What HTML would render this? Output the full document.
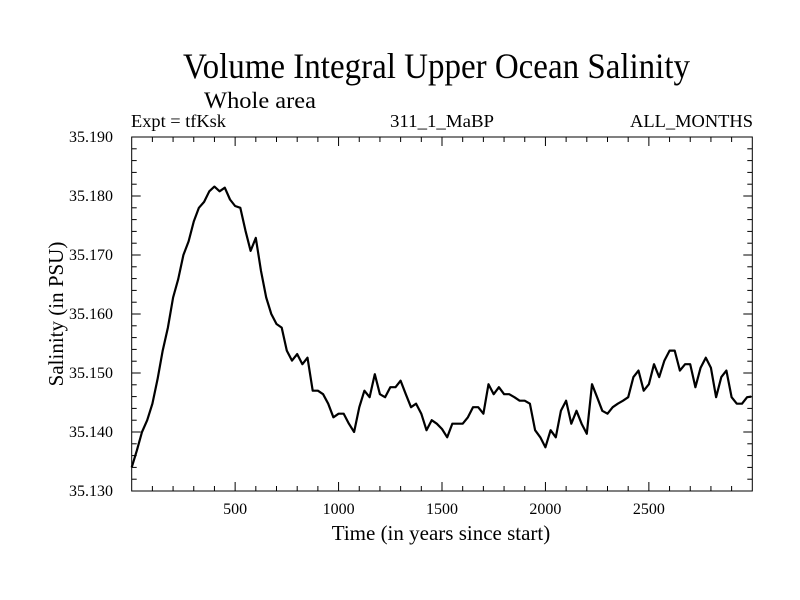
<!DOCTYPE html>
<html><head><meta charset="utf-8"><style>
html,body{margin:0;padding:0;background:#fff;}
svg{display:block;font-family:"Liberation Serif",serif;}
</style></head><body>
<svg id="chart" width="800" height="600" viewBox="0 0 800 600">
<rect x="0" y="0" width="800" height="600" fill="#fff"/>
<text x="183" y="78" font-size="36" textLength="507" lengthAdjust="spacingAndGlyphs">Volume Integral Upper Ocean Salinity</text>
<text x="204" y="108" font-size="23" textLength="112" lengthAdjust="spacingAndGlyphs">Whole area</text>
<text x="131" y="127" font-size="18" textLength="95" lengthAdjust="spacingAndGlyphs">Expt = tfKsk</text>
<text x="390" y="127" font-size="18" textLength="104" lengthAdjust="spacingAndGlyphs">311_1_MaBP</text>
<text x="630" y="127" font-size="18" textLength="123" lengthAdjust="spacingAndGlyphs">ALL_MONTHS</text>
<g id="axes"></g>
<g id="series"></g>
<rect x="131.7" y="137" width="620.6" height="354" fill="none" stroke="#000" stroke-width="1"/>
<text x="441" y="540" font-size="21" text-anchor="middle">Time (in years since start)</text>
<text transform="translate(63,314) rotate(-90)" font-size="21" text-anchor="middle">Salinity (in PSU)</text>
</svg>
<script>
const years = [0,25,50,75,100,125,150,175,200,225,250,275,300,325,350,375,400,425,450,475,500,525,550,575,600,625,650,675,700,725,750,775,800,825,850,875,900,925,950,975,1000,1025,1050,1075,1100,1125,1150,1175,1200,1225,1250,1275,1300,1325,1350,1375,1400,1425,1450,1475,1500,1525,1550,1575,1600,1625,1650,1675,1700,1725,1750,1775,1800,1825,1850,1875,1900,1925,1950,1975,2000,2025,2050,2075,2100,2125,2150,2175,2200,2225,2250,2275,2300,2325,2350,2375,2400,2425,2450,2475,2500,2525,2550,2575,2600,2625,2650,2675,2700,2725,2750,2775,2800,2825,2850,2875,2900,2925,2950,2975,2995];
const salinity = [35.1340,35.1369,35.1400,35.1420,35.1448,35.1490,35.1538,35.1577,35.1628,35.1659,35.1700,35.1723,35.1757,35.1780,35.1790,35.1808,35.1816,35.1808,35.1814,35.1794,35.1783,35.1780,35.1741,35.1707,35.1729,35.1673,35.1628,35.1600,35.1583,35.1577,35.1538,35.1521,35.1532,35.1515,35.1526,35.1470,35.1470,35.1464,35.1448,35.1425,35.1431,35.1431,35.1414,35.1400,35.1442,35.1470,35.1459,35.1498,35.1464,35.1459,35.1476,35.1476,35.1487,35.1464,35.1442,35.1448,35.1431,35.1403,35.1420,35.1414,35.1405,35.1391,35.1414,35.1414,35.1414,35.1425,35.1442,35.1442,35.1431,35.1481,35.1464,35.1476,35.1464,35.1464,35.1459,35.1453,35.1453,35.1448,35.1403,35.1391,35.1374,35.1403,35.1391,35.1436,35.1453,35.1414,35.1436,35.1414,35.1397,35.1481,35.1459,35.1436,35.1431,35.1442,35.1448,35.1453,35.1459,35.1493,35.1504,35.1470,35.1481,35.1515,35.1493,35.1521,35.1538,35.1538,35.1504,35.1515,35.1515,35.1476,35.1509,35.1526,35.1509,35.1459,35.1493,35.1504,35.1459,35.1448,35.1448,35.1459,35.1460];
const xTickValues = [500,1000,1500,2000,2500];
const yTickValues = [35.130,35.140,35.150,35.160,35.170,35.180,35.190];
const yTickLabels = ["35.130","35.140","35.150","35.160","35.170","35.180","35.190"];

const X0=131.7, X1=752.3, Y0=491, Y1=137;
const xMin=0, xMax=3000, yMin=35.130, yMax=35.190;
function xs(v){return X0+(v-xMin)/(xMax-xMin)*(X1-X0);}
function ys(v){return Y0-(v-yMin)/(yMax-yMin)*(Y0-Y1);}
const NS="http://www.w3.org/2000/svg";
const axes=document.getElementById('axes');
function line(x1,y1,x2,y2,name){
  const l=document.createElementNS(NS,'line');
  l.setAttribute('x1',x1);l.setAttribute('y1',y1);l.setAttribute('x2',x2);l.setAttribute('y2',y2);
  l.setAttribute('stroke','#000');l.setAttribute('stroke-width','1');
  
  
  axes.appendChild(l);
}
for(let v=100; v<3000; v+=100){
  const major = v%500===0;
  const len = major?9:5;
  line(xs(v),Y0,xs(v),Y0-len,'x-tick');
  line(xs(v),Y1,xs(v),Y1+len,'x-tick-top');
}
for(let i=1;i<30;i++){
  const v=yMin+i*0.002;
  const major = i%5===0;
  const len = major?9:5;
  line(X0,ys(v),X0+len,ys(v),'y-tick');
  line(X1,ys(v),X1-len,ys(v),'y-tick-right');
}
xTickValues.forEach(v=>{
  const t=document.createElementNS(NS,'text');
  t.setAttribute('x',xs(v));t.setAttribute('y',514);
  t.setAttribute('font-size','16');t.setAttribute('text-anchor','middle');
  t.textContent=String(v);
  
  
  axes.appendChild(t);
});
yTickValues.forEach((v,i)=>{
  const t=document.createElementNS(NS,'text');
  t.setAttribute('x',113);t.setAttribute('y',ys(v)+5);
  t.setAttribute('font-size','16');t.setAttribute('text-anchor','end');
  t.textContent=yTickLabels[i];
  
  
  axes.appendChild(t);
});
const pts=years.map((y,i)=>xs(y).toFixed(1)+','+ys(salinity[i]).toFixed(1)).join(' ');
const pl=document.createElementNS(NS,'polyline');
pl.setAttribute('points',pts);
pl.setAttribute('fill','none');pl.setAttribute('stroke','#000');
pl.setAttribute('stroke-width','2.2');pl.setAttribute('stroke-linejoin','round');


document.getElementById('series').appendChild(pl);
</script>
</body></html>
